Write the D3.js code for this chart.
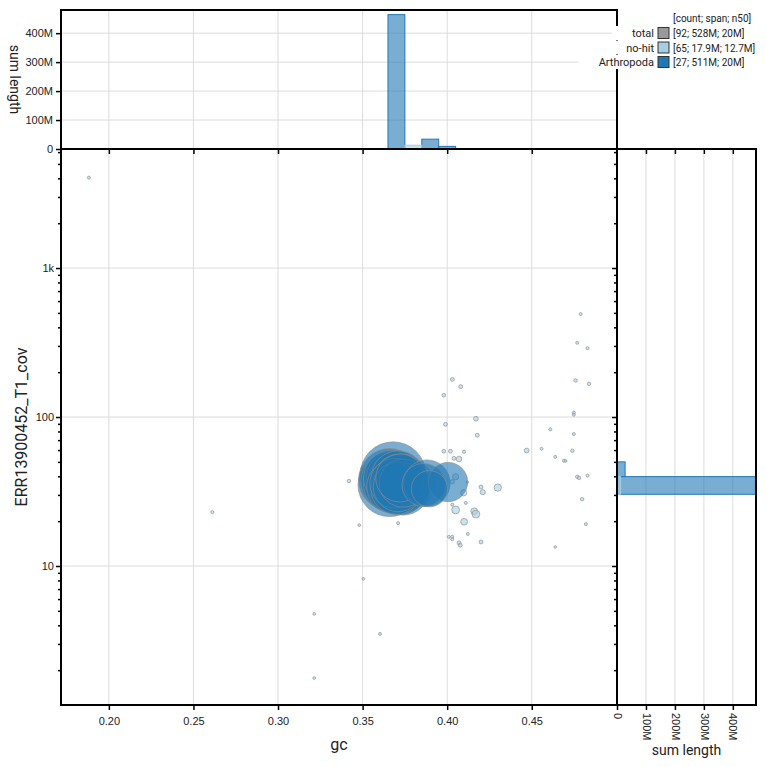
<!DOCTYPE html>
<html>
<head>
<meta charset="utf-8">
<script src="https://d3js.org/d3.v7.min.js"></script>
<style>
  body { margin: 0; background: #fff; }
  svg { font-family: Roboto, "Noto Sans", sans-serif; }
  .grid line { stroke: #dcdcdc; stroke-width: 1; }
  .tick text { font-size: 11px; fill: #222; }
</style>
</head>
<body>
<div class="chart"></div>
<script>
// legend
const categories = ["total", "no-hit", "Arthropoda"];
const legendStats = ["[92; 528M; 20M]", "[65; 17.9M; 12.7M]", "[27; 511M; 20M]"];

// contigs: [gc, coverage, length in Mb]
const arthropodaContigs = [
  [0.368, 41, 28], [0.366, 38, 25], [0.367, 37, 24], [0.368, 36, 23],
  [0.369, 37.5, 22], [0.370, 35, 22], [0.371, 36, 21], [0.369, 38.5, 21],
  [0.372, 34, 20], [0.370, 38, 20], [0.373, 35, 20], [0.367, 39, 20],
  [0.371, 39, 19], [0.372, 37, 19], [0.374, 33, 18], [0.368, 34, 18],
  [0.370, 33, 17], [0.373, 38, 17], [0.369, 36, 16], [0.371, 34, 16],
  [0.374, 36, 15], [0.372, 39, 15], [0.366, 35, 26],
  [0.386, 35, 12], [0.388, 36, 14], [0.3895, 33, 8.5], [0.4005, 36.6, 10]
];

const noHitContigs = [
  [0.1882, 4045, 0.06], [0.2612, 23.0, 0.06], [0.3214, 4.77, 0.05], [0.3214, 1.77, 0.05],
  [0.3603, 3.5, 0.06], [0.3505, 8.2, 0.05], [0.3419, 37.2, 0.08], [0.348, 18.8, 0.05],
  [0.371, 19.4, 0.06], [0.4031, 179, 0.1], [0.408, 160, 0.1], [0.398, 140, 0.09],
  [0.417, 97.4, 0.15], [0.399, 89.3, 0.1], [0.4178, 75.4, 0.1], [0.398, 58.9, 0.09],
  [0.4019, 58.9, 0.1], [0.410, 58.5, 0.07], [0.404, 52.8, 0.1], [0.407, 52.3, 0.2],
  [0.447, 59.6, 0.15], [0.405, 39.7, 0.25], [0.403, 36.8, 0.12], [0.412, 36.5, 0.04],
  [0.420, 33.9, 0.1], [0.421, 31.3, 0.17], [0.4299, 33.6, 0.35], [0.4098, 31, 0.25],
  [0.411, 26.5, 0.06], [0.403, 25.8, 0.06], [0.405, 23.8, 0.4], [0.416, 23.3, 0.3],
  [0.417, 22.3, 0.4], [0.410, 19.8, 0.3], [0.4122, 16.4, 0.06], [0.401, 15.7, 0.06],
  [0.403, 15.7, 0.06], [0.403, 15.1, 0.06], [0.407, 14.3, 0.1], [0.4077, 13.8, 0.1],
  [0.420, 14.5, 0.1], [0.4789, 491, 0.06], [0.4769, 315, 0.06], [0.483, 290, 0.06],
  [0.4759, 176, 0.08], [0.4839, 167, 0.08], [0.4749, 107, 0.06], [0.4749, 103.6, 0.06],
  [0.461, 82.7, 0.06], [0.4749, 76.9, 0.06], [0.4558, 61.2, 0.06], [0.474, 59.4, 0.08],
  [0.4639, 54, 0.06], [0.469, 50.9, 0.06], [0.470, 50.7, 0.05], [0.4769, 39.7, 0.08],
  [0.478, 39, 0.08], [0.483, 40.4, 0.06], [0.4798, 28.1, 0.08], [0.482, 19.1, 0.06],
  [0.4639, 13.4, 0.02], [0.380, 35, 12.7], [0.376, 38, 0.1], [0.379, 33, 0.1],
  [0.384, 40, 0.1]
];

// histograms: [bin start, bin end, sum length in Mb]
const gcHistArthropoda = [[0.365, 0.375, 464], [0.385, 0.395, 34], [0.395, 0.405, 9]];
const gcHistNoHit = [[0.375, 0.385, 13], [0.395, 0.405, 1.5], [0.405, 0.415, 1.5]];
const covHistArthropoda = [[39.8, 50, 28], [30.3, 39.8, 478]];
const covHistNoHit = [[30.3, 39.8, 12.5]];

// ticks
const gcTicks = [0.20, 0.25, 0.30, 0.35, 0.40, 0.45];
const covTicks = [10, 100, 1000];
const covTickLabels = ["10", "100", "1k"];
const sumTicks = [0, 100, 200, 300, 400];
const sumTickLabels = ["0", "100M", "200M", "300M", "400M"];

const colors = { "total": "#999999", "no-hit": "#a6cee3", "Arthropoda": "#1f78b4" };

const W = 767, H = 767;
const mLeft = 61, mRight = 617, mTop = 149, mBottom = 705, histTop = 10, histRight = 756;

const svg = d3.select(".chart").append("svg").attr("width", W).attr("height", H);

const x = d3.scaleLinear().domain([0.1717, 0.5004]).range([mLeft, mRight]);
const y = d3.scaleLog().domain([1.167, 6295]).range([mBottom, mTop]);
const ySum = d3.scaleLinear().domain([0, 480]).range([mTop, histTop]);
const xSum = d3.scaleLinear().domain([0, 480]).range([mRight, histRight]);
const r = d3.scaleSqrt().domain([0, 30]).range([0, 34]);

// grids
const grid = svg.append("g").attr("class", "grid");
gcTicks.forEach(t => {
  grid.append("line").attr("x1", x(t)).attr("x2", x(t)).attr("y1", histTop).attr("y2", mBottom);
});
covTicks.forEach(t => {
  grid.append("line").attr("x1", mLeft).attr("x2", mRight).attr("y1", y(t)).attr("y2", y(t));
});
sumTicks.slice(1).forEach(t => {
  grid.append("line").attr("x1", mLeft).attr("x2", mRight).attr("y1", ySum(t)).attr("y2", ySum(t));
  grid.append("line").attr("x1", xSum(t)).attr("x2", xSum(t)).attr("y1", mTop).attr("y2", mBottom);
});

// histograms
function gcBars(bins, cat) {
  svg.append("g").selectAll("rect").data(bins).join("rect")
    .attr("x", d => x(d[0])).attr("width", d => x(d[1]) - x(d[0]))
    .attr("y", d => ySum(d[2])).attr("height", d => ySum(0) - ySum(d[2]))
    .attr("fill", colors[cat]).attr("fill-opacity", 0.6)
    .attr("stroke", colors[cat]).attr("stroke-width", 1);
}
function covBars(bins, cat) {
  svg.append("g").selectAll("rect").data(bins).join("rect")
    .attr("x", xSum(0)).attr("width", d => xSum(d[2]) - xSum(0))
    .attr("y", d => y(d[1])).attr("height", d => y(d[0]) - y(d[1]))
    .attr("fill", colors[cat]).attr("fill-opacity", 0.6)
    .attr("stroke", colors[cat]).attr("stroke-width", 1);
}
gcBars(gcHistArthropoda, "Arthropoda");
gcBars(gcHistNoHit, "no-hit");
covBars(covHistArthropoda, "Arthropoda");
covBars(covHistNoHit, "no-hit");

// scatter
const plot = svg.append("g");
function bubbles(data, cat) {
  plot.append("g").selectAll("circle").data(data).join("circle")
    .attr("cx", d => x(d[0])).attr("cy", d => y(d[1]))
    .attr("r", d => Math.max(r(d[2]), 1.3))
    .attr("fill", colors[cat]).attr("fill-opacity", 0.6)
    .attr("stroke", "#8c8c8c").attr("stroke-width", 0.8).attr("stroke-opacity", 0.8);
}
bubbles(noHitContigs, "no-hit");
bubbles(arthropodaContigs.slice().sort((a, b) => b[2] - a[2]), "Arthropoda");

// axes
function clean(g) { g.select(".domain").remove(); return g; }

svg.append("g").attr("transform", `translate(0,${mBottom})`)
  .call(d3.axisBottom(x).tickValues(gcTicks).tickFormat(d3.format(".2f")).tickSize(5).tickPadding(7))
  .call(clean);
svg.append("g").attr("transform", `translate(0,${mTop})`)
  .call(d3.axisBottom(x).tickValues(gcTicks).tickFormat("").tickSize(5))
  .call(clean);

const covAll = y.ticks();
svg.append("g").attr("transform", `translate(${mLeft},0)`)
  .call(d3.axisLeft(y).tickValues(covAll).tickSize(3).tickPadding(4)
    .tickFormat(d => { const i = covTicks.indexOf(d); return i >= 0 ? covTickLabels[i] : ""; }))
  .call(clean)
  .call(g => g.selectAll(".tick line").filter(d => covTicks.includes(d)).attr("x2", -5));
svg.append("g").attr("transform", `translate(${mRight},0)`)
  .call(d3.axisLeft(y).tickValues(covAll).tickSize(3).tickFormat(""))
  .call(clean)
  .call(g => g.selectAll(".tick line").filter(d => covTicks.includes(d)).attr("x2", -5));

svg.append("g").attr("transform", `translate(${mLeft},0)`)
  .call(d3.axisLeft(ySum).tickValues(sumTicks).tickFormat((d, i) => sumTickLabels[i]).tickSize(5).tickPadding(3))
  .call(clean);

svg.append("g").attr("transform", `translate(0,${mBottom})`)
  .call(d3.axisBottom(xSum).tickValues(sumTicks).tickFormat((d, i) => sumTickLabels[i]).tickSize(5))
  .call(clean)
  .call(g => g.selectAll(".tick text").attr("transform", "rotate(90)")
    .attr("text-anchor", "start").attr("x", 8).attr("y", 0).attr("dy", "0.35em"));
svg.append("g").attr("transform", `translate(0,${mTop})`)
  .call(d3.axisBottom(xSum).tickValues(sumTicks.slice(1)).tickFormat("").tickSize(5))
  .call(clean);

svg.selectAll(".tick line").attr("stroke", "#000").attr("stroke-width", 1.5);

// frames
const frame = svg.append("g").attr("fill", "none").attr("stroke", "#000").attr("stroke-width", 2);
frame.append("rect").attr("x", mLeft).attr("y", mTop).attr("width", mRight - mLeft).attr("height", mBottom - mTop);
frame.append("path").attr("d", `M${mLeft},${mTop}V${histTop}H${mRight}V${mTop}`);
frame.append("path").attr("d", `M${mRight},${mTop}H${histRight}V${mBottom}H${mRight}`);

// axis titles
svg.append("text").attr("x", (mLeft + mRight) / 2).attr("y", 750).attr("text-anchor", "middle")
  .attr("font-size", 16).attr("fill", "#222").text("gc");
svg.append("text").attr("transform", `translate(27,${(mTop + mBottom) / 2}) rotate(-90)`)
  .attr("text-anchor", "middle").attr("font-size", 16).attr("fill", "#222").text("ERR13900452_T1_cov");
svg.append("text").attr("transform", `translate(10,${(histTop + mTop) / 2}) rotate(90)`)
  .attr("text-anchor", "middle").attr("font-size", 14).attr("fill", "#222").text("sum length");
svg.append("text").attr("x", (mRight + histRight) / 2).attr("y", 755).attr("text-anchor", "middle")
  .attr("font-size", 14).attr("fill", "#222").text("sum length");

// legend
const legend = svg.append("g").attr("transform", "translate(656,0)");
legend.append("text").attr("x", 17).attr("y", 22).attr("font-size", 10).attr("fill", "#222")
  .text("[count; span; n50]");
const rows = legend.selectAll(".row").data(categories).join("g")
  .attr("transform", (d, i) => `translate(0,${33 + i * 14.5})`);
const bg = rows.append("rect").attr("y", -7).attr("height", 14).attr("fill", "#fff");
const labels = rows.append("text").attr("x", -2).attr("y", 4).attr("text-anchor", "end")
  .attr("font-size", 11).attr("fill", "#222").text(d => d);
labels.each(function (d, i) {
  const w = this.getComputedTextLength();
  d3.select(bg.nodes()[i]).attr("x", -2 - w - 20).attr("width", w + 22);
});
rows.append("rect").attr("x", 2).attr("y", -5.5).attr("width", 11).attr("height", 11)
  .attr("fill", d => colors[d]).attr("stroke", "#333").attr("stroke-width", 1);
rows.append("text").attr("x", 17).attr("y", 4).attr("font-size", 10).attr("fill", "#222")
  .text((d, i) => legendStats[i]);
</script>
</body>
</html>
